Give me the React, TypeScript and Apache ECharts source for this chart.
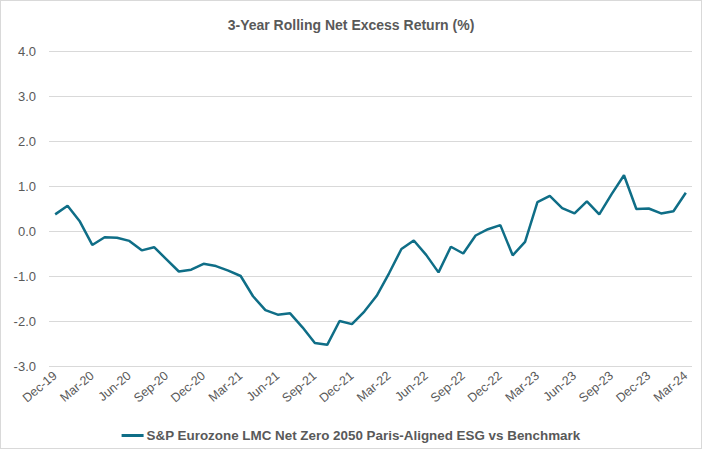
import React, { useEffect, useRef } from "react";
import * as echarts from "echarts";

const months: string[] = [
  "Dec-19", "Jan-20", "Feb-20", "Mar-20", "Apr-20", "May-20", "Jun-20", "Jul-20", "Aug-20", "Sep-20", "Oct-20", "Nov-20",
  "Dec-20", "Jan-21", "Feb-21", "Mar-21", "Apr-21", "May-21", "Jun-21", "Jul-21", "Aug-21", "Sep-21", "Oct-21", "Nov-21",
  "Dec-21", "Jan-22", "Feb-22", "Mar-22", "Apr-22", "May-22", "Jun-22", "Jul-22", "Aug-22", "Sep-22", "Oct-22", "Nov-22",
  "Dec-22", "Jan-23", "Feb-23", "Mar-23", "Apr-23", "May-23", "Jun-23", "Jul-23", "Aug-23", "Sep-23", "Oct-23", "Nov-23",
  "Dec-23", "Jan-24", "Feb-24", "Mar-24",
];

const excessReturn: number[] = [
  0.37, 0.56, 0.21, -0.31, -0.14, -0.15, -0.22, -0.43, -0.36, -0.63, -0.9, -0.86,
  -0.73, -0.78, -0.88, -1.0, -1.45, -1.76, -1.86, -1.83, -2.14, -2.49, -2.53, -2.0,
  -2.07, -1.79, -1.44, -0.94, -0.4, -0.21, -0.53, -0.92, -0.35, -0.5, -0.1, 0.04,
  0.13, -0.54, -0.24, 0.64, 0.78, 0.51, 0.39, 0.66, 0.37, 0.82, 1.24, 0.49,
  0.5, 0.39, 0.44, 0.85,
];

const seriesName = "S&P Eurozone LMC Net Zero 2050 Paris-Aligned ESG vs Benchmark";
const chartTitle = "3-Year Rolling Net Excess Return (%)";

export default function App() {
  const ref = useRef<HTMLDivElement>(null);
  useEffect(() => {
    if (!ref.current) return;
    const chart = echarts.init(ref.current, null, { renderer: "svg" });
    const font = "'Liberation Sans', Arial, sans-serif";
    chart.setOption({
      animation: false,
      backgroundColor: "#ffffff",
      title: {
        text: chartTitle,
        left: "center",
        top: 12,
        textStyle: { fontFamily: font, fontSize: 14, fontWeight: "bold", color: "#595959" },
      },
      legend: {
        bottom: 1,
        left: "center",
        icon: "rect",
        itemWidth: 22,
        itemHeight: 3,
        itemGap: 4,
        textStyle: { fontFamily: font, fontSize: 13.4, fontWeight: "bold", color: "#595959", padding: [0, 0, 0, -2] },
        data: [seriesName],
      },
      grid: { left: 48, right: 9, top: 50, bottom: 82, containLabel: false },
      xAxis: {
        type: "category",
        data: months,
        boundaryGap: true,
        axisLine: { show: false },
        axisTick: { show: false },
        axisLabel: {
          interval: 2,
          rotate: 40,
          margin: 8,
          fontFamily: font,
          fontSize: 12.5,
          color: "#595959",
        },
      },
      yAxis: {
        type: "value",
        min: -3,
        max: 4,
        interval: 1,
        axisLine: { show: false },
        axisTick: { show: false },
        splitLine: { lineStyle: { color: "#d9d9d9", width: 1 } },
        axisLabel: {
          formatter: (v: number) => v.toFixed(1),
          fontFamily: font,
          fontSize: 13,
          color: "#595959",
          margin: 13,
        },
      },
      series: [
        {
          name: seriesName,
          type: "line",
          data: excessReturn,
          symbol: "none",
          lineStyle: { color: "#0f6e87", width: 2.5 },
          itemStyle: { color: "#0f6e87" },
        },
      ],
    });
    return () => chart.dispose();
  }, []);
  return (
    <div
      ref={ref}
      style={{
        position: "fixed",
        left: 0,
        top: 0,
        width: 702,
        height: 449,
        boxSizing: "border-box",
        border: "1px solid #d9d9d9",
      }}
    />
  );
}
